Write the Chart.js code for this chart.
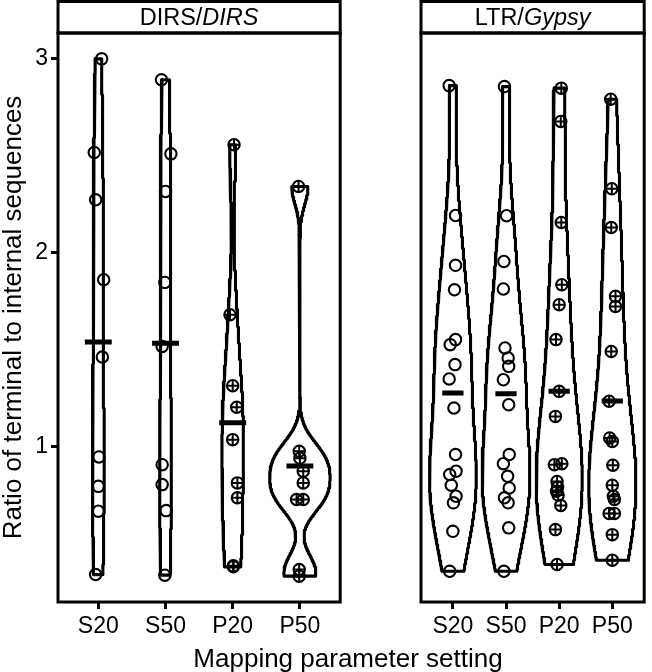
<!DOCTYPE html>
<html lang="en">
<head>
<meta charset="UTF-8">
<title>Ratio of terminal to internal sequences</title>
<script src="https://cdn.jsdelivr.net/npm/chart.js"></script>
<style>
  body { margin: 0; background: #fff; }
  #wrap { position: relative; width: 652px; height: 672px; overflow: hidden; font-family: "Liberation Sans", Arial, sans-serif; }
  #leftPanel { position: absolute; left: 0; top: 0; }
  #rightPanel { position: absolute; left: 360px; top: 0; }
  #xTitle { position: absolute; left: 48px; width: 600px; top: 645px; text-align: center; font-size: 26px; line-height: 26px; color: #000; }
</style>
</head>
<body>
<div id="wrap">
  <canvas id="leftPanel" width="348" height="672"></canvas>
  <canvas id="rightPanel" width="292" height="672"></canvas>
  <div id="xTitle">Mapping parameter setting</div>
</div>
<script>
// categories and tick labels
const categories = ['S20', 'S50', 'P20', 'P50'];
const yTicks = [1, 2, 3];

// DIRS/DIRS panel values
const dirsS20 = [3.0, 2.517, 2.273, 1.861, 1.462, 0.947, 0.795, 0.667, 0.340];
const dirsS50 = [2.892, 2.510, 2.316, 1.847, 1.517, 0.907, 0.804, 0.670, 0.337];
const dirsP20 = [2.557, 1.680, 1.314, 1.203, 1.036, 0.813, 0.736, 0.385, 0.380];
const dirsP50 = [2.342, 0.976, 0.940, 0.873, 0.813, 0.727, 0.727, 0.366, 0.332];

// LTR/Gypsy panel values
const gypsyS20 = [2.862, 2.192, 1.935, 1.809, 1.552, 1.526, 1.423, 1.349, 1.199, 0.959, 0.873, 0.856, 0.801, 0.744, 0.710, 0.563, 0.357];
const gypsyS50 = [2.857, 2.191, 1.955, 1.813, 1.509, 1.457, 1.414, 1.345, 1.216, 0.959, 0.912, 0.847, 0.787, 0.736, 0.710, 0.581, 0.357];
const gypsyP20 = [2.849, 2.677, 2.156, 1.835, 1.732, 1.552, 1.285, 1.156, 0.912, 0.907, 0.820, 0.790, 0.770, 0.750, 0.696, 0.572, 0.392];
const gypsyP50 = [2.792, 2.330, 2.130, 1.775, 1.723, 1.491, 1.234, 1.045, 1.027, 0.904, 0.801, 0.744, 0.727, 0.655, 0.655, 0.546, 0.414];

// horizontal jitter of each point, in category units
const dirsS20Jit = [0.05, -0.06, -0.04, 0.08, 0.06, 0.01, 0, 0, -0.04];
const dirsS50Jit = [-0.06, 0.08, 0, -0.01, -0.05, -0.05, -0.05, 0.01, -0.01];
const dirsP20Jit = [0.02, -0.04, 0, 0.06, 0, 0.07, 0.07, 0.01, 0.01];
const dirsP50Jit = [-0.02, -0.01, 0, 0.05, 0.05, -0.05, 0.05, -0.01, -0.01];
const gypsyS20Jit = [-0.07, 0.05, 0.05, 0.03, 0.05, -0.05, 0.04, -0.07, 0.02, 0.05, 0.06, -0.06, -0.03, 0.06, 0.01, 0, -0.06];
const gypsyS50Jit = [-0.03, 0.01, -0.04, -0.05, -0.02, 0.04, 0.05, -0.05, 0.05, 0.06, -0.05, 0.03, 0.06, -0.03, 0.04, 0.05, -0.04];
const gypsyP20Jit = [0.04, 0.03, 0.04, 0.05, 0, -0.06, 0, -0.07, 0.05, -0.09, -0.04, -0.03, -0.05, -0.02, 0.03, -0.07, -0.04];
const gypsyP50Jit = [-0.03, -0.01, -0.02, 0.06, 0.06, -0.02, -0.06, -0.05, 0, 0.01, 0, 0.02, 0.04, -0.06, 0.04, 0, 0];

const FONT = '"Liberation Sans", Arial, Helvetica, sans-serif';

// shared y range, ggplot style 5% expansion
const allVals = [].concat(dirsS20, dirsS50, dirsP20, dirsP50, gypsyS20, gypsyS50, gypsyP20, gypsyP50);
const lo = Math.min(...allVals), hi = Math.max(...allVals);
const yMin = lo - 0.05 * (hi - lo);
const yMax = hi + 0.05 * (hi - lo);

function quantile7(sorted, p) {
    const h = (sorted.length - 1) * p;
    const i = Math.floor(h);
    return sorted[i] + (h - i) * ((sorted[i + 1] ?? sorted[i]) - sorted[i]);
}

// R's bw.nrd0
function bandwidth(vals) {
    const n = vals.length;
    const mean = vals.reduce((a, b) => a + b, 0) / n;
    const sd = Math.sqrt(vals.reduce((a, b) => a + (b - mean) ** 2, 0) / (n - 1));
    const s = vals.slice().sort((a, b) => a - b);
    const iqr = quantile7(s, 0.75) - quantile7(s, 0.25);
    let l = Math.min(sd, iqr / 1.34);
    if (!(l > 0)) l = sd || 1;
    return 0.9 * l * Math.pow(n, -0.2);
}

// gaussian kernel density, trimmed to the data range
function density(vals, steps) {
    const bw = bandwidth(vals);
    const a = Math.min(...vals), b = Math.max(...vals);
    const out = [];
    for (let k = 0; k < steps; k++) {
        const y = a + (b - a) * k / (steps - 1);
        let d = 0;
        vals.forEach(v => {
            const z = (y - v) / bw;
            d += Math.exp(-0.5 * z * z);
        });
        out.push({ y: y, d: d / (vals.length * bw * Math.sqrt(2 * Math.PI)) });
    }
    return out;
}

// draws panel border and the facet strip
const panelFrame = {
    id: 'panelFrame',
    afterDraw(chart, args, opts) {
        const { ctx, chartArea: a } = chart;
        ctx.save();
        ctx.lineWidth = 3;
        ctx.strokeStyle = '#000';
        ctx.strokeRect(a.left, a.top, a.right - a.left, a.bottom - a.top);
        ctx.strokeRect(a.left, 1.5, a.right - a.left, a.top - 1.5);
        const plain = '23.5px ' + FONT;
        const ital = 'italic 23.5px ' + FONT;
        ctx.font = plain;
        const w1 = ctx.measureText(opts.parts[0]).width;
        ctx.font = ital;
        const w2 = ctx.measureText(opts.parts[1]).width;
        let x = (a.left + a.right) / 2 - (w1 + w2) / 2;
        ctx.fillStyle = '#000';
        ctx.textBaseline = 'alphabetic';
        ctx.textAlign = 'left';
        ctx.font = plain;
        ctx.fillText(opts.parts[0], x, 25);
        ctx.font = ital;
        ctx.fillText(opts.parts[1], x + w1, 25);
        ctx.restore();
    }
};

function makePanel(canvasId, groups, jitters, strip, showY, padding) {
    const grids = groups.map(g => density(g, 512));
    const maxD = Math.max(...grids.map(g => Math.max(...g.map(p => p.d))));
    const datasets = [];

    groups.forEach((vals, i) => {
        // violin outline
        const g = grids[i];
        const right = g.map(p => ({ x: i + 0.45 * p.d / maxD, y: p.y }));
        const left = g.slice().reverse().map(p => ({ x: i - 0.45 * p.d / maxD, y: p.y }));
        const outline = right.concat(left, [right[0]]);
        datasets.push({
            data: outline, showLine: true, pointRadius: 0, borderColor: '#000',
            borderWidth: 3.1, fill: false, order: 3, borderJoinStyle: 'round'
        });

        // points: open circles, circle-plus for the P settings
        const pts = vals.map((v, k) => ({ x: i + jitters[i][k], y: v }));
        datasets.push({
            data: pts, pointStyle: 'circle', pointRadius: 5.7, pointBorderWidth: 2.1,
            pointBorderColor: '#000', pointBackgroundColor: 'rgba(0,0,0,0)', order: 2
        });
        if (categories[i].startsWith('P')) {
            datasets.push({
                data: pts, pointStyle: 'cross', pointRadius: 5.7, pointBorderWidth: 2,
                pointBorderColor: '#000', pointBackgroundColor: 'rgba(0,0,0,0)', order: 2
            });
        }

        // mean bar
        const mean = vals.reduce((a, b) => a + b, 0) / vals.length;
        datasets.push({
            data: [{ x: i - 0.2, y: mean }, { x: i + 0.2, y: mean }],
            showLine: true, pointRadius: 0, borderColor: '#000', borderWidth: 5, order: 1
        });
    });

    return new Chart(document.getElementById(canvasId), {
        type: 'scatter',
        data: { datasets: datasets },
        options: {
            responsive: false,
            devicePixelRatio: 1,
            animation: false,
            events: [],
            layout: { padding: padding },
            plugins: {
                legend: { display: false },
                tooltip: { enabled: false },
                panelFrame: { parts: strip }
            },
            scales: {
                x: {
                    type: 'linear',
                    min: -0.6,
                    max: 3.6,
                    afterBuildTicks: s => { s.ticks = categories.map((c, i) => ({ value: i })); },
                    afterFit: s => { s.height = 70; },
                    grid: { drawOnChartArea: false, drawTicks: true, tickLength: 7, tickWidth: 3, tickColor: '#000' },
                    border: { display: false },
                    ticks: {
                        autoSkip: false, maxRotation: 0, padding: 4, color: '#000',
                        font: { family: FONT, size: 23 },
                        callback: v => categories[v]
                    }
                },
                y: {
                    type: 'linear',
                    display: showY,
                    min: yMin,
                    max: yMax,
                    afterBuildTicks: s => { s.ticks = yTicks.map(v => ({ value: v })); },
                    afterFit: s => { s.width = 58; },
                    grid: { drawOnChartArea: false, drawTicks: true, tickLength: 7, tickWidth: 3, tickColor: '#000' },
                    border: { display: false },
                    ticks: {
                        padding: 3, color: '#000',
                        font: { family: FONT, size: 23 },
                        callback: v => String(v)
                    },
                    title: {
                        display: true,
                        text: 'Ratio of terminal to internal sequences',
                        color: '#000',
                        font: { family: FONT, size: 26 },
                        padding: { top: -2, bottom: 0 }
                    }
                }
            }
        },
        plugins: [panelFrame]
    });
}

makePanel('leftPanel',
    [dirsS20, dirsS50, dirsP20, dirsP50],
    [dirsS20Jit, dirsS50Jit, dirsP20Jit, dirsP50Jit],
    ['DIRS/', 'DIRS'], true, { top: 33, right: 2, left: 0, bottom: 0 });

makePanel('rightPanel',
    [gypsyS20, gypsyS50, gypsyP20, gypsyP50],
    [gypsyS20Jit, gypsyS50Jit, gypsyP20Jit, gypsyP50Jit],
    ['LTR/', 'Gypsy'], false, { top: 33, right: 2, left: 3, bottom: 0 });
</script>
</body>
</html>
